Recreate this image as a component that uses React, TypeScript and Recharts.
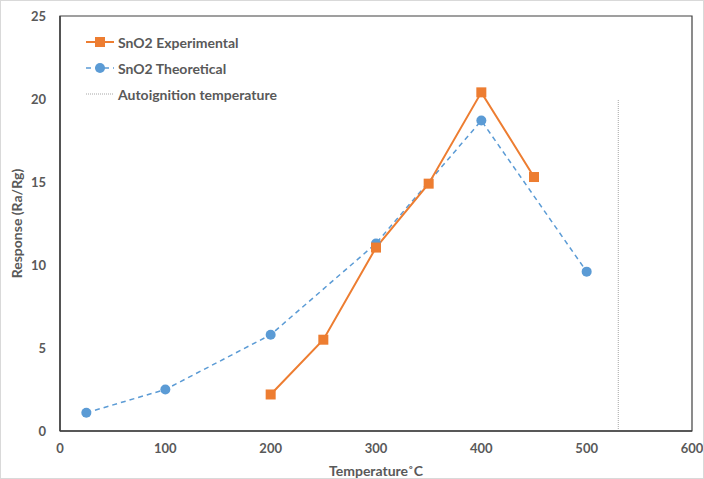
import { LineChart, Line, XAxis, YAxis, ReferenceArea } from 'recharts';

const expTemps = [200, 250, 300, 350, 400, 450];
const expValues = [2.2, 5.5, 11.05, 14.9, 20.4, 15.3];

const theoTemps = [25, 100, 200, 300, 400, 500];
const theoValues = [1.1, 2.5, 5.8, 11.3, 18.7, 9.6];

const autoTemps = [530, 530];
const autoValues = [0, 20];

const xTicks = [0, 100, 200, 300, 400, 500, 600];
const yTicks = [0, 5, 10, 15, 20, 25];

const ORANGE = '#ED7D31';
const BLUE = '#5B9BD5';
const GREY = '#A6A6A6';
const TEXT = '#595959';
const FONT = 'Lato, "Open Sans", sans-serif';

const toPoints = (xs: number[], ys: number[]) => xs.map((x, i) => ({ x, y: ys[i] }));

const expData = toPoints(expTemps, expValues);
const theoData = toPoints(theoTemps, theoValues);
const autoData = toPoints(autoTemps, autoValues);

const SquareDot = (props: any) => {
  const { cx, cy, index } = props;
  if (cx == null || cy == null) return null;
  return <rect key={index} x={cx - 5} y={cy - 5} width={10} height={10} fill={ORANGE} />;
};

const legendItems = [
  { name: 'SnO2 Experimental', kind: 'exp' },
  { name: 'SnO2 Theoretical', kind: 'theo' },
  { name: 'Autoignition temperature', kind: 'auto' },
];

const ChartLegend = () => (
  <div
    style={{
      position: 'absolute',
      left: 85,
      top: 28,
      fontFamily: FONT,
      fontWeight: 700,
      fontSize: 14,
      color: TEXT,
    }}
  >
    {legendItems.map((it) => (
      <div key={it.name} style={{ display: 'flex', alignItems: 'center', height: 26 }}>
        <svg width={30} height={12} style={{ marginRight: 2 }}>
          {it.kind === 'exp' && (
            <>
              <line x1={0} y1={6} x2={28} y2={6} stroke={ORANGE} strokeWidth={2} />
              <rect x={9} y={1} width={10} height={10} fill={ORANGE} />
            </>
          )}
          {it.kind === 'theo' && (
            <>
              <line x1={0} y1={6} x2={28} y2={6} stroke={BLUE} strokeWidth={1.5} strokeDasharray="5 4" />
              <circle cx={14} cy={6} r={5} fill={BLUE} />
            </>
          )}
          {it.kind === 'auto' && (
            <line x1={0} y1={6} x2={28} y2={6} stroke={GREY} strokeWidth={1} strokeDasharray="1 1" />
          )}
        </svg>
        <span>{it.name}</span>
      </div>
    ))}
  </div>
);

export default function App() {
  return (
    <div
      style={{
        position: 'relative',
        width: 704,
        height: 479,
        boxSizing: 'border-box',
        border: '1px solid #D9D9D9',
        background: '#fff',
      }}
    >
      <style>{`body{margin:0}`}</style>
      <LineChart
        width={702}
        height={477}
        margin={{ top: 15, right: 11, bottom: 0, left: 0 }}
        style={{ overflow: 'visible' }}
      >
        <XAxis
          type="number"
          dataKey="x"
          domain={[0, 600]}
          ticks={xTicks}
          allowDuplicatedCategory={false}
          height={47}
          tickLine={false}
          tickSize={0}
          tickMargin={13}
          axisLine={{ stroke: '#404040', strokeWidth: 1.5 }}
          tick={{ fill: TEXT, fontSize: 13, fontWeight: 700, fontFamily: FONT }}
          label={{ value: 'Temperature˚C', position: 'insideBottom', offset: 2, fill: TEXT, fontSize: 14, fontWeight: 700, fontFamily: FONT }}
        />
        <YAxis
          type="number"
          domain={[0, 25]}
          ticks={yTicks}
          width={59}
          tickLine={false}
          tickSize={0}
          tickMargin={14}
          axisLine={{ stroke: '#404040', strokeWidth: 1.5 }}
          tick={{ fill: TEXT, fontSize: 13, fontWeight: 700, fontFamily: FONT }}
          label={{ value: 'Response (Ra/Rg)', angle: -90, position: 'insideLeft', offset: 16, style: { textAnchor: 'middle' }, fill: TEXT, fontSize: 14, fontWeight: 700, fontFamily: FONT }}
        />
        <ReferenceArea x1={0} x2={600} y1={0} y2={25} fill="none" stroke="#404040" strokeWidth={1.2} />
        <Line
          data={autoData}
          dataKey="y"
          name="Autoignition temperature"
          stroke={GREY}
          strokeWidth={1}
          strokeDasharray="1 1"
          dot={false}
          isAnimationActive={false}
        />
        <Line
          data={theoData}
          dataKey="y"
          name="SnO2 Theoretical"
          stroke={BLUE}
          strokeWidth={1.5}
          strokeDasharray="5 4"
          dot={{ r: 5, fill: BLUE, stroke: BLUE, strokeWidth: 0 }}
          activeDot={false}
          isAnimationActive={false}
        />
        <Line
          data={expData}
          dataKey="y"
          name="SnO2 Experimental"
          stroke={ORANGE}
          strokeWidth={2}
          dot={<SquareDot />}
          activeDot={false}
          isAnimationActive={false}
        />
      </LineChart>
      <ChartLegend />
    </div>
  );
}
